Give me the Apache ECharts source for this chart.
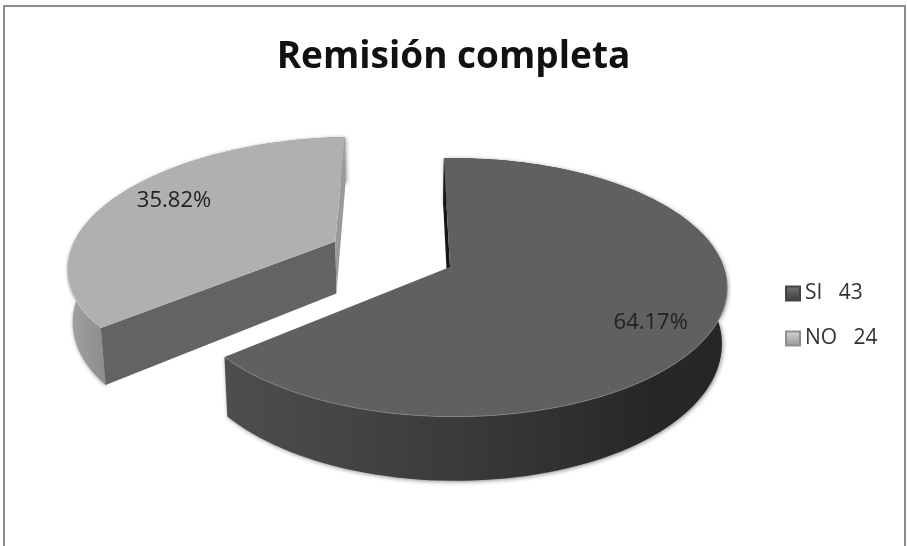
<!DOCTYPE html>
<html>
<head>
<meta charset="utf-8">
<style>html,body{margin:0;padding:0;background:#fff}#chart{width:907px;height:546px}</style>
<script src="https://cdn.jsdelivr.net/npm/echarts@6/dist/echarts.min.js"></script>
</head>
<body>
<div id="chart"></div>
<script>
// Chart content
const chartTitle = 'Remisión completa';
const categories = ['SI', 'NO'];
const counts = [43, 24];
const percents = [64.17, 35.82];

// Perspective camera for the tilted disc
const view = { ax: 450, ay: 267, r: 269.5, k: 126, p: 0.158, px: -0.015, depth: 54, vx: 400, q: 0.984 };
const startAngle = -1.5;      // degrees clockwise from twelve o'clock
const explode = [0, 0.49];    // pull-out per slice, in disc radii
const explodeTurn = [0, 1.5]; // degrees added to the pull-out direction
const sliceScale = [1, 1.03]; // rim radius per slice
const labelRadius = [0.8, 0.79];
const labelTurn = [6.5, 4.5];
const looks = [
  { top: '#606060', rimEdge: '#8a8a8a', wallA: '#161616',
    rim: [[0, '#4e4e4e'], [0.5, '#393939'], [0.85, '#272727'], [1, '#262626']],
    legend: ['#757575', '#3c3c3c'] },
  { top: '#b0b0b0', rimEdge: '#c9c9c9', wallA: '#636363', wallB: '#9a9a9a',
    rim: [[0, '#a2a2a2'], [0.12, '#8f8f8f'], [1, '#8f8f8f']],
    legend: ['#d6d6d6', '#969696'] }
];

const rad = d => d * Math.PI / 180;

function project(X, Y, low) {
  const w = 1 + view.p * Y + view.px * X;
  let x = view.ax + view.r * X / w;
  const y = view.ay - view.k * Y / w + (low ? view.depth / w : 0);
  if (low) x = view.vx + (x - view.vx) * view.q;
  return [x, y];
}

function sliceBounds(i) {
  let a = startAngle;
  for (let j = 0; j < i; j++) a += percents[j] * 3.6;
  return [a, a + percents[i] * 3.6];
}

function sliceOrigin(i) {
  const [a, b] = sliceBounds(i);
  const dir = rad((a + b) / 2 + explodeTurn[i]);
  return [explode[i] * Math.sin(dir), explode[i] * Math.cos(dir)];
}

function rimPoint(i, deg, low) {
  const [ox, oy] = sliceOrigin(i);
  const s = sliceScale[i];
  return project(ox + s * Math.sin(rad(deg)), oy + s * Math.cos(rad(deg)), low);
}

function arcPoints(i, from, to, low) {
  const pts = [];
  const n = Math.max(2, Math.ceil(Math.abs(to - from) / 2));
  for (let s = 0; s <= n; s++) pts.push(rimPoint(i, from + (to - from) * s / n, low));
  return pts;
}

function renderSlice(params) {
  const idx = params.seriesIndex === 0 ? 1 : 0; // far slice is painted first
  const [a, b] = sliceBounds(idx);
  const look = looks[idx];
  const [ox, oy] = sliceOrigin(idx);
  const apexTop = project(ox, oy, false);
  const apexLow = project(ox, oy, true);
  const topArc = arcPoints(idx, a, b, false);
  const lowArc = arcPoints(idx, a, b, true);
  const poly = (points, style) => ({ type: 'polygon', shape: { points }, style, silent: true });

  const children = [
    poly(topArc.concat(lowArc.slice().reverse()), {
      fill: { type: 'linear', x: 0, y: 0, x2: 1, y2: 0, colorStops: look.rim.map(s => ({ offset: s[0], color: s[1] })) },
      shadowBlur: 4, shadowColor: 'rgba(0,0,0,0.45)', shadowOffsetX: 1, shadowOffsetY: 1
    }),
    poly([rimPoint(idx, a, false), apexTop, apexLow, rimPoint(idx, a, true)], { fill: look.wallA })
  ];
  // The closing cut face only shows on the pulled-out slice
  if (look.wallB) {
    children.push(poly([rimPoint(idx, b, false), apexTop, apexLow, rimPoint(idx, b, true)], { fill: look.wallB }));
  }
  children.push(poly([apexTop].concat(topArc), { fill: look.top }));

  // Thin highlight where the top face meets the front rim
  const edgeFrom = idx === 0 ? 95 : 232;
  const edgeTo = idx === 0 ? b : 272;
  children.push({
    type: 'polyline', silent: true,
    shape: { points: arcPoints(idx, edgeFrom, edgeTo, false) },
    style: { fill: null, stroke: look.rimEdge, lineWidth: 1, opacity: idx === 0 ? 0.7 : 0.9 }
  });

  // Percentage label lying on the top face
  const labelDeg = (a + b) / 2 + labelTurn[idx];
  const labelPos = project(
    ox + labelRadius[idx] * Math.sin(rad(labelDeg)),
    oy + labelRadius[idx] * Math.cos(rad(labelDeg)),
    false
  );
  children.push({
    type: 'text', silent: true, x: labelPos[0], y: labelPos[1],
    style: {
      text: percents[idx].toFixed(2) + '%',
      font: '22px "Open Sans"', fill: '#222', align: 'center', verticalAlign: 'middle'
    }
  });
  return { type: 'group', children };
}

const names = categories.map((c, i) => c + '   ' + counts[i]);
// Series order: far slice first so the near slice overlaps it
const series = [1, 0].map(i => ({
  type: 'custom',
  name: names[i],
  coordinateSystem: 'none',
  renderItem: renderSlice,
  data: [percents[i]],
  silent: true,
  itemStyle: {
    color: { type: 'linear', x: 0, y: 0, x2: 0, y2: 1,
      colorStops: [{ offset: 0, color: looks[i].legend[0] }, { offset: 1, color: looks[i].legend[1] }] },
    borderColor: i === 0 ? '#444' : '#8f8f8f', borderWidth: 1
  }
}));

const chart = echarts.init(document.getElementById('chart'), null, { renderer: 'canvas' });
chart.setOption({
  animation: false,
  backgroundColor: '#ffffff',
  title: {
    text: chartTitle, left: 'center', top: 34,
    textStyle: { fontFamily: 'Open Sans', fontWeight: 'bold', fontSize: 37, color: '#111' }
  },
  legend: {
    data: names.map(n => ({ name: n, icon: 'rect' })),
    orient: 'vertical', left: 780, top: 278,
    itemWidth: 14, itemHeight: 14, itemGap: 24, selectedMode: false,
    textStyle: { fontFamily: 'Open Sans', fontSize: 21, color: '#333' }
  },
  graphic: [{
    type: 'rect', silent: true,
    shape: { x: 4, y: 6, width: 901, height: 560 },
    style: { fill: 'none', stroke: '#8c8c8c', lineWidth: 2 }
  }],
  series
});
</script>
</body>
</html>
